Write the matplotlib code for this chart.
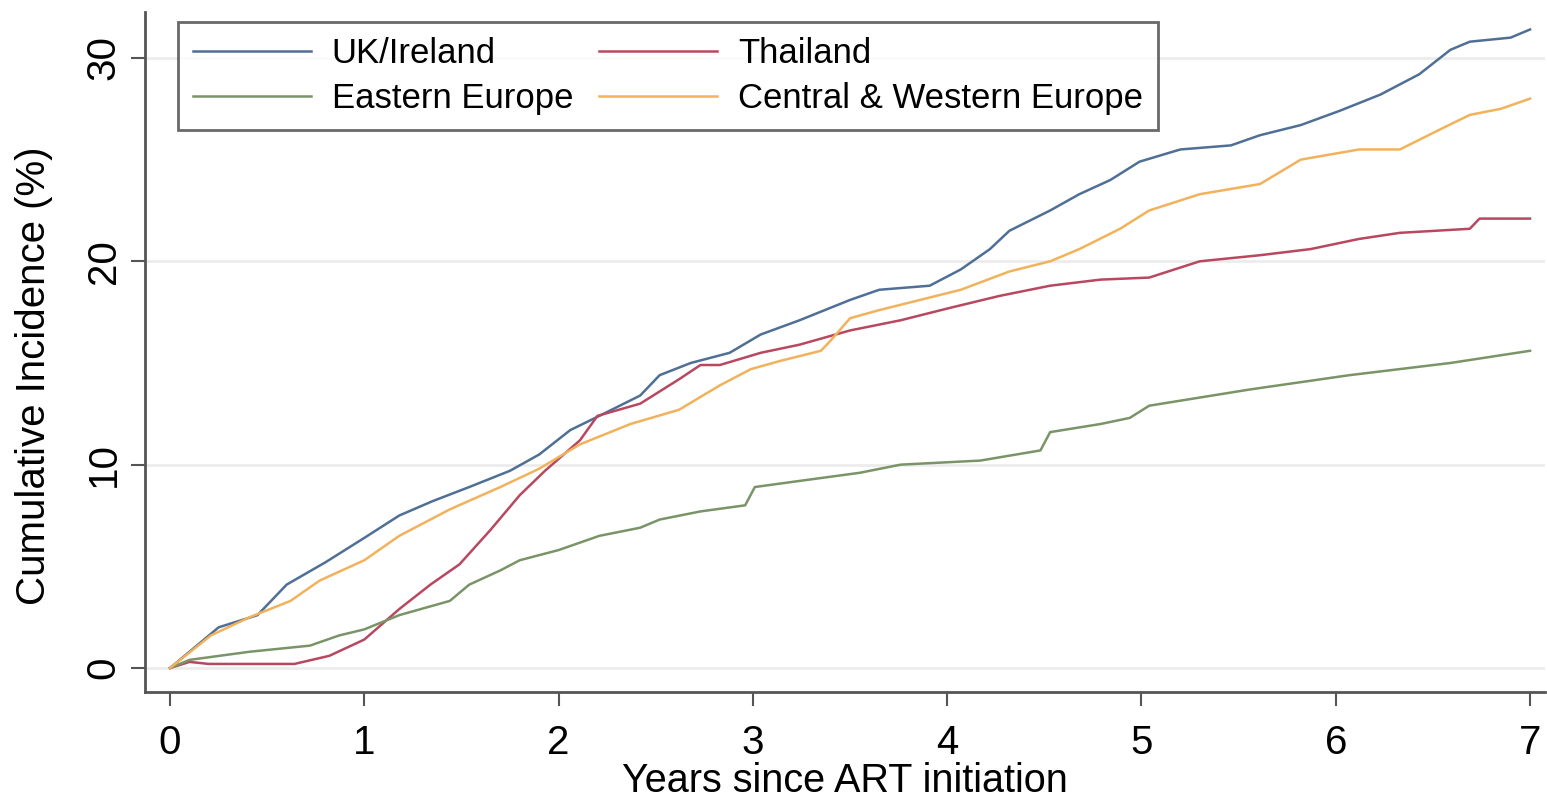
import numpy as np
import matplotlib
matplotlib.use('Agg')
from matplotlib import pyplot as plt

plt.rcParams['font.family'] = ['Liberation Sans', 'DejaVu Sans']

# cumulative incidence (%)
uk_x = [0, 0.1, 0.25, 0.45, 0.6, 0.8, 1.0, 1.18, 1.35, 1.54, 1.75, 1.9, 2.06, 2.21, 2.42, 2.52,
        2.68, 2.88, 3.04, 3.24, 3.5, 3.65, 3.91, 4.07, 4.22, 4.32, 4.53, 4.68, 4.84, 4.99, 5.2,
        5.46, 5.61, 5.82, 6.02, 6.23, 6.43, 6.59, 6.69, 6.9, 7.0]
uk_y = [0, 0.8, 2.0, 2.6, 4.1, 5.2, 6.4, 7.5, 8.2, 8.9, 9.7, 10.5, 11.7, 12.4, 13.4, 14.4,
        15.0, 15.5, 16.4, 17.1, 18.1, 18.6, 18.8, 19.6, 20.6, 21.5, 22.5, 23.3, 24.0, 24.9, 25.5,
        25.7, 26.2, 26.7, 27.4, 28.2, 29.2, 30.4, 30.8, 31.0, 31.4]

th_x = [0, 0.1, 0.2, 0.64, 0.82, 1.0, 1.18, 1.34, 1.49, 1.65, 1.8, 1.93, 2.11, 2.2, 2.42, 2.62,
        2.73, 2.83, 3.04, 3.24, 3.5, 3.76, 4.01, 4.27, 4.53, 4.79, 5.04, 5.3, 5.61, 5.87, 6.12,
        6.33, 6.69, 6.74, 7.0]
th_y = [0, 0.3, 0.2, 0.2, 0.6, 1.4, 2.9, 4.1, 5.1, 6.8, 8.5, 9.7, 11.2, 12.4, 13.0, 14.2,
        14.9, 14.9, 15.5, 15.9, 16.6, 17.1, 17.7, 18.3, 18.8, 19.1, 19.2, 20.0, 20.3, 20.6, 21.1,
        21.4, 21.6, 22.1, 22.1]

ee_x = [0, 0.1, 0.41, 0.72, 0.87, 1.0, 1.18, 1.44, 1.54, 1.7, 1.8, 2.0, 2.21, 2.42, 2.52, 2.73,
        2.96, 3.01, 3.24, 3.55, 3.76, 4.17, 4.48, 4.53, 4.79, 4.94, 5.04, 5.56, 6.07, 6.59, 7.0]
ee_y = [0, 0.4, 0.8, 1.1, 1.6, 1.9, 2.6, 3.3, 4.1, 4.8, 5.3, 5.8, 6.5, 6.9, 7.3, 7.7,
        8.0, 8.9, 9.2, 9.6, 10.0, 10.2, 10.7, 11.6, 12.0, 12.3, 12.9, 13.7, 14.4, 15.0, 15.6]

cw_x = [0, 0.21, 0.41, 0.62, 0.77, 1.0, 1.18, 1.44, 1.7, 1.9, 2.11, 2.37, 2.62, 2.83, 2.99, 3.14,
        3.35, 3.4, 3.5, 3.65, 3.86, 4.07, 4.32, 4.53, 4.68, 4.89, 5.04, 5.3, 5.61, 5.82, 6.12,
        6.33, 6.54, 6.69, 6.85, 7.0]
cw_y = [0, 1.6, 2.5, 3.3, 4.3, 5.3, 6.5, 7.8, 8.9, 9.8, 11.0, 12.0, 12.7, 13.9, 14.7, 15.1,
        15.6, 16.1, 17.2, 17.6, 18.1, 18.6, 19.5, 20.0, 20.6, 21.6, 22.5, 23.3, 23.8, 25.0, 25.5,
        25.5, 26.5, 27.2, 27.5, 28.0]

labels = ['UK/Ireland', 'Thailand', 'Eastern Europe', 'Central & Western Europe']
colors = ['#4f6f96', '#b8485f', '#7a9468', '#f2b25c']
xticks = [0, 1, 2, 3, 4, 5, 6, 7]
yticks = [0, 10, 20, 30]

fig = plt.figure(figsize=(15.47, 8.05), dpi=100)
ax = fig.add_axes([145/1547, 113/805, 1400/1547, 680/805])

for v in yticks:
    ax.axhline(v, color='#ececec', lw=2, zorder=0)

l1, = ax.plot(uk_x, uk_y, color=colors[0], lw=1.8)
l2, = ax.plot(th_x, th_y, color=colors[1], lw=1.8)
l3, = ax.plot(ee_x, ee_y, color=colors[2], lw=1.8)
l4, = ax.plot(cw_x, cw_y, color=colors[3], lw=1.8)

ax.set_xlim(-0.129, 7.077)
ax.set_ylim(-1.18, 32.26)
ax.set_xticks(xticks)
ax.set_yticks(yticks)
ax.tick_params(axis='both', labelsize=29, length=10, width=1.5, color='#555555', direction='out')
ax.tick_params(axis='x', pad=13)
ax.tick_params(axis='y', pad=6)
for t in ax.get_yticklabels():
    t.set_rotation(90)
    t.set_va('center')

for s in ['top', 'right']:
    ax.spines[s].set_visible(False)
for s in ['left', 'bottom']:
    ax.spines[s].set_color('#555555')
    ax.spines[s].set_linewidth(2)

ax.set_xlabel('Years since ART initiation', fontsize=28.5, labelpad=0)
ax.set_ylabel('Cumulative Incidence (%)', fontsize=29)
ax.yaxis.set_label_coords(-0.066, 0.465)

leg = ax.legend([l1, l3, l2, l4], [labels[0], labels[2], labels[1], labels[3]], ncol=2,
                loc='upper left', bbox_to_anchor=(0.0236, 0.985), fontsize=25,
                frameon=True, fancybox=False, handlelength=3.4, handletextpad=0.6,
                columnspacing=0.75, labelspacing=0.35, borderpad=0.42, borderaxespad=0)
leg.get_frame().set_edgecolor('#444444')
leg.get_frame().set_linewidth(2)

fig.savefig('out.png', dpi=100, facecolor='white')
